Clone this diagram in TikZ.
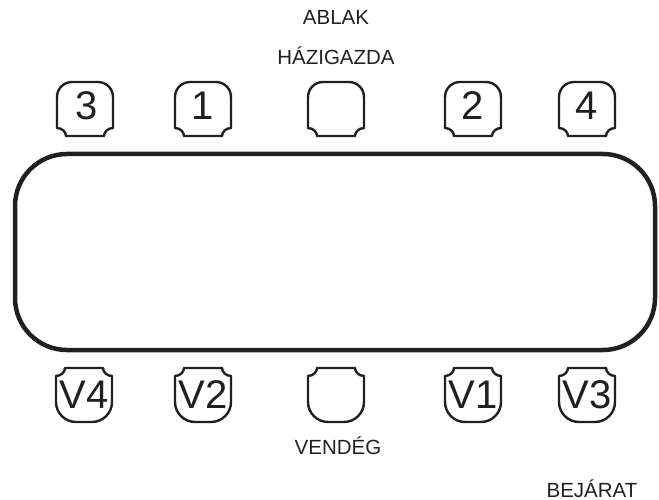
\documentclass[tikz,border=0pt]{standalone}
\usepackage{fontspec}
\setmainfont{Liberation Sans}
\definecolor{ink}{HTML}{231F20}
\tikzset{
  chairline/.style={draw=ink, line width=2.4pt, line join=round},
  seatnum/.style={text=ink, font=\fontsize{40}{40}\selectfont, anchor=base, inner sep=0pt},
  label/.style={text=ink, font=\fontsize{20.5}{21}\selectfont, anchor=base, inner sep=0pt},
  chairtop/.pic={
    \draw[chairline] (-28,19) .. controls (-23,19) and (-19,23) .. (-19,27)
      -- (19,27) .. controls (19,23) and (23,19) .. (28,19)
      -- (28,-12) .. controls (28,-20.3) and (21.3,-27) .. (13,-27)
      -- (-13,-27) .. controls (-21.3,-27) and (-28,-20.3) .. (-28,-12) -- cycle;
  },
  chairbot/.pic={
    \draw[chairline] (-28,-19) .. controls (-23,-19) and (-19,-23) .. (-19,-27)
      -- (19,-27) .. controls (19,-23) and (23,-19) .. (28,-19)
      -- (28,7) .. controls (28,18) and (19,27) .. (8,27)
      -- (-8,27) .. controls (-19,27) and (-28,18) .. (-28,7) -- cycle;
  },
}
\begin{document}
\begin{tikzpicture}[x=1pt,y=-1pt]
\useasboundingbox (0,0) rectangle (659,500);
% table
\node[draw=ink, line width=4.5pt, rounded corners=52pt, minimum width=640pt, minimum height=196pt, inner sep=0pt, outer sep=0pt] (table) at (335,252) {};
% top chairs
\pic (c3) at (85,109) {chairtop};
\pic (c1) at (203,109) {chairtop};
\pic (ch) at (336,109) {chairtop};
\pic (c2) at (473,109) {chairtop};
\pic (c4) at (587,109) {chairtop};
\node[seatnum] (n3) at (87,120) {3};
\node[seatnum] (n1) at (203,120) {1};
\node[seatnum] (n2) at (473,120) {2};
\node[seatnum] (n4) at (587,120) {4};
% bottom chairs
\pic (v4) at (84,395) {chairbot};
\pic (v2) at (203,395) {chairbot};
\pic (vg) at (336,395) {chairbot};
\pic (v1) at (473,395) {chairbot};
\pic (v3) at (587,395) {chairbot};
\node[seatnum] (t4) at (84,408.5) {V4};
\node[seatnum] (t2) at (203,408.5) {V2};
\node[seatnum] (t1) at (473,408.5) {V1};
\node[seatnum] (t3) at (587,408.5) {V3};
% labels
\node[label] (ablak) at (336,25) {ABLAK};
\node[label] (host) at (336,65) {HÁZIGAZDA};
\node[label] (guest) at (338,454) {VENDÉG};
\node[label] (door) at (592,497) {BEJÁRAT};
\end{tikzpicture}
\end{document}
